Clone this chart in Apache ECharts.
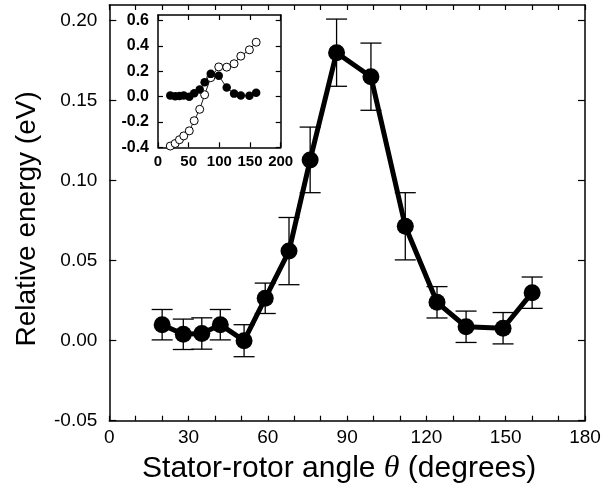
<!DOCTYPE html>
<html>
<head>
<meta charset="utf-8">
<script src="https://cdn.jsdelivr.net/npm/echarts@6/dist/echarts.min.js"></script>
<style>html,body{margin:0;padding:0;background:#fff;}#c{width:603px;height:483px;}</style>
</head>
<body>
<div id="c"></div>
<script>
// Main data
const angles = [20, 28, 35, 42, 51, 59, 68, 76, 86, 99, 112, 124, 135, 149, 160];
const energy = [0.010, 0.004, 0.0045, 0.010, 0.000, 0.0265, 0.056, 0.113, 0.180, 0.165, 0.0715, 0.024, 0.0087, 0.0078, 0.030];
const errors = [0.0095, 0.0095, 0.0098, 0.0095, 0.010, 0.0095, 0.021, 0.0205, 0.021, 0.021, 0.021, 0.0098, 0.0098, 0.0098, 0.0098];
// Inset open-circle series
const insetOpen = [-0.39, -0.37, -0.34, -0.31, -0.27, -0.19, -0.10, 0.015, 0.15, 0.235, 0.233, 0.26, 0.32, 0.37, 0.43];
// Tick labels
const mainYTicks = [-0.05, 0, 0.05, 0.10, 0.15, 0.20];
const mainXTicks = [0, 30, 60, 90, 120, 150, 180];
const insetYTicks = [-0.4, -0.2, 0.0, 0.2, 0.4, 0.6];
const insetXTicks = [0, 50, 100, 150, 200];

const minorX = [];
for (let v = 0; v <= 180; v += 10) minorX.push(v);

const font = 'Liberation Sans, Arial, Helvetica, sans-serif';
const chart = echarts.init(document.getElementById('c'), null, {renderer: 'canvas'});

const mainPts = angles.map((a, i) => [a, energy[i]]);
const errPts = angles.map((a, i) => [a, energy[i], errors[i]]);
const insetFilled = angles.map((a, i) => [a, energy[i]]);
const insetOpenPts = angles.map((a, i) => [a, insetOpen[i]]);

function axisCommon(extra) {
  return Object.assign({
    axisLine: {show: true, onZero: false, lineStyle: {color: '#000', width: 1.5}},
    splitLine: {show: false},
    axisTick: {show: true, inside: true, length: 6, lineStyle: {color: '#000', width: 1.2}},
  }, extra);
}

const option = {
  backgroundColor: '#fff',
  animation: false,
  grid: [
    {left: 109.3, top: 5, width: 475.7, height: 415.7, outerBoundsMode: 'none', containLabel: false},
    {left: 158, top: 15, width: 122.7, height: 132.3, show: true, backgroundColor: '#fff', borderWidth: 0, outerBoundsMode: 'none', containLabel: false}
  ],
  xAxis: [
    axisCommon({gridIndex: 0, type: 'value', min: 0, max: 180, position: 'bottom',
      name: 'Stator-rotor angle {i|θ} (degrees)', nameLocation: 'middle', nameGap: 23,
      nameTextStyle: {fontFamily: font, fontSize: 30, color: '#000', padding: [0, 16, 0, 0],
        rich: {i: {fontFamily: 'Liberation Serif, Times New Roman, serif', fontStyle: 'italic', fontSize: 32, color: '#000'}}},
      axisTick: {show: true, inside: true, length: 5, customValues: minorX, lineStyle: {color: '#000', width: 1.2}},
      axisLabel: {customValues: mainXTicks, fontFamily: font, fontSize: 19, color: '#000', margin: 8}
    }),
    axisCommon({gridIndex: 0, type: 'value', min: 0, max: 180, position: 'top',
      axisTick: {show: true, inside: true, length: 5, customValues: minorX, lineStyle: {color: '#000', width: 1.2}},
      axisLabel: {show: false}
    }),
    axisCommon({gridIndex: 1, type: 'value', min: 0, max: 200, position: 'bottom',
      axisTick: {show: true, inside: true, length: 5, customValues: insetXTicks, lineStyle: {color: '#000', width: 1.2}},
      axisLabel: {customValues: insetXTicks, fontFamily: font, fontWeight: 'bold', fontSize: 15, color: '#000', margin: 7}
    }),
    axisCommon({gridIndex: 1, type: 'value', min: 0, max: 200, position: 'top',
      axisTick: {show: true, inside: true, length: 5, customValues: insetXTicks, lineStyle: {color: '#000', width: 1.2}},
      axisLabel: {show: false}
    })
  ],
  yAxis: [
    axisCommon({gridIndex: 0, type: 'value', min: -0.05, max: 0.2098, position: 'left',
      name: 'Relative energy (eV)', nameLocation: 'middle', nameGap: 68,
      nameTextStyle: {fontFamily: font, fontSize: 28, color: '#000', padding: [0, 12, 0, 0]},
      axisTick: {show: true, inside: true, length: 7, customValues: mainYTicks, lineStyle: {color: '#000', width: 1.2}},
      axisLabel: {customValues: mainYTicks, fontFamily: font, fontSize: 19, color: '#000', margin: 12,
        formatter: v => v.toFixed(2)}
    }),
    axisCommon({gridIndex: 0, type: 'value', min: -0.05, max: 0.2098, position: 'right',
      axisTick: {show: true, inside: true, length: 7, customValues: mainYTicks, lineStyle: {color: '#000', width: 1.2}},
      axisLabel: {show: false}
    }),
    axisCommon({gridIndex: 1, type: 'value', min: -0.4, max: 0.645, position: 'left',
      axisTick: {show: true, inside: true, length: 5, customValues: insetYTicks, lineStyle: {color: '#000', width: 1.2}},
      axisLabel: {customValues: insetYTicks, fontFamily: font, fontWeight: 'bold', fontSize: 16, color: '#000', margin: 9,
        formatter: v => v.toFixed(1)}
    }),
    axisCommon({gridIndex: 1, type: 'value', min: -0.4, max: 0.645, position: 'right',
      axisTick: {show: true, inside: true, length: 5, customValues: insetYTicks, lineStyle: {color: '#000', width: 1.2}},
      axisLabel: {show: false}
    })
  ],
  series: [
    {
      type: 'custom', xAxisIndex: 0, yAxisIndex: 0, data: errPts, z: 1,
      renderItem: function (params, api) {
        const x = api.value(0), y = api.value(1), e = api.value(2);
        const top = api.coord([x, y + e]);
        const bot = api.coord([x, y - e]);
        const hw = 10.5;
        const st = {stroke: '#000', lineWidth: 1.3};
        return {
          type: 'group',
          children: [
            {type: 'line', shape: {x1: top[0], y1: top[1], x2: bot[0], y2: bot[1]}, style: st},
            {type: 'line', shape: {x1: top[0] - hw, y1: top[1], x2: top[0] + hw, y2: top[1]}, style: st},
            {type: 'line', shape: {x1: bot[0] - hw, y1: bot[1], x2: bot[0] + hw, y2: bot[1]}, style: st}
          ]
        };
      }
    },
    {
      type: 'line', xAxisIndex: 0, yAxisIndex: 0, data: mainPts, z: 3,
      symbol: 'circle', symbolSize: 17, showSymbol: true,
      lineStyle: {color: '#000', width: 5},
      itemStyle: {color: '#000'}
    },
    {
      type: 'line', xAxisIndex: 2, yAxisIndex: 2, data: insetOpenPts, z: 5, clip: false,
      symbol: 'circle', symbolSize: 8,
      lineStyle: {color: '#000', width: 0.9},
      itemStyle: {color: '#fff', borderColor: '#000', borderWidth: 1}
    },
    {
      type: 'line', xAxisIndex: 2, yAxisIndex: 2, data: insetFilled, z: 6, clip: false,
      symbol: 'circle', symbolSize: 8.5,
      lineStyle: {color: '#000', width: 0.9},
      itemStyle: {color: '#000'}
    }
  ]
};
chart.setOption(option);
</script>
</body>
</html>
